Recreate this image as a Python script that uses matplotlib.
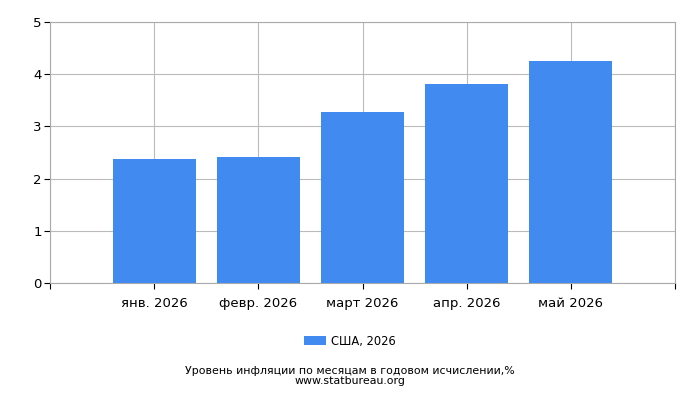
import matplotlib
matplotlib.use("Agg")
from matplotlib import pyplot as plt

months = ["янв. 2026", "февр. 2026", "март 2026", "апр. 2026", "май 2026"]
values = [2.38, 2.42, 3.27, 3.82, 4.25]
series_name = "США, 2026"
title = "Уровень инфляции по месяцам в годовом исчислении,%"
source = "www.statbureau.org"

plt.rcParams['font.family'] = ['DejaVu Sans']

fig = plt.figure(figsize=(7, 4), dpi=100)
ax = fig.add_axes([50 / 700, 1 - 283 / 400, 625 / 700, 261 / 400])

pos = list(range(1, len(months) + 1))
ax.bar(pos, values, width=0.8, color="#418bf0", label=series_name, zorder=3)

ax.set_xlim(0, len(months) + 1)
ax.set_ylim(0, 5)
ax.set_xticks(range(0, len(months) + 2))
ax.set_xticklabels([""] + months + [""], fontsize=9.5)
ax.set_yticks(range(6))
ax.tick_params(axis="y", labelsize=9.5, length=4, color="black", pad=2)
ax.tick_params(axis="x", length=4, color="black", pad=6)
ax.grid(True, color="#bbbbbb", linewidth=0.8, zorder=0)
for s in ax.spines.values():
    s.set_color("#aaaaaa")
    s.set_linewidth(0.8)

fig.legend(loc="center", bbox_to_anchor=(350 / 700, 1 - 341 / 400), frameon=False,
           fontsize=8.3, handlelength=1.9, handleheight=0.8, handletextpad=0.5)
fig.text(350 / 700, 1 - 371 / 400, title, ha="center", va="center", fontsize=7.9)
fig.text(350 / 700, 1 - 381 / 400, source, ha="center", va="center", fontsize=7.9)

fig.savefig("out.png", dpi=100)
